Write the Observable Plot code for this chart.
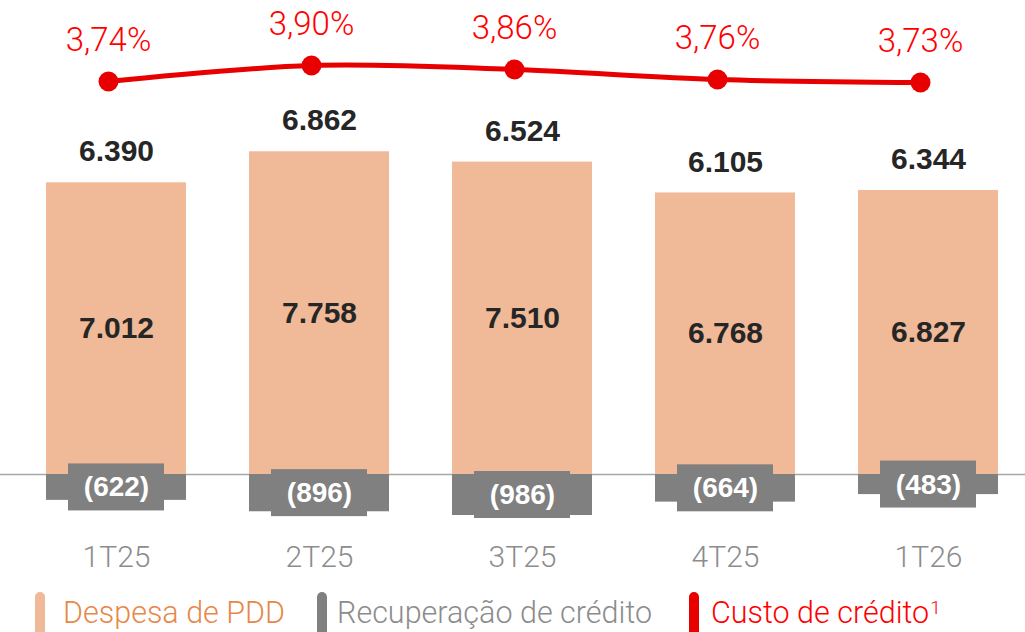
<!DOCTYPE html>
<html>
<head>
<meta charset="utf-8">
<script src="https://cdn.jsdelivr.net/npm/d3@7"></script>
<script src="https://cdn.jsdelivr.net/npm/@observablehq/plot@0.6"></script>
<style>
  html, body { margin: 0; padding: 0; background: #fff; }
  #wrap { position: relative; width: 1025px; height: 632px; overflow: hidden; font-family: Roboto, "Open Sans", sans-serif; }
  #wrap svg { position: absolute; left: 0; top: 0; overflow: visible; }
  .leg { position: absolute; top: 592px; height: 40px; display: flex; align-items: center; font-family: Roboto, sans-serif; font-weight: 300; font-size: 30.5px; white-space: nowrap; }
  .sw { position: absolute; top: 592px; width: 10px; height: 46px; border-radius: 5px; }
  sup { font-size: 19px; position: relative; top: -5px; margin-left: 1px; }
</style>
</head>
<body>
<div id="wrap"></div>
<script>
const categories = ["1T25", "2T25", "3T25", "4T25", "1T26"];
const despesaPDD = [7012, 7758, 7510, 6768, 6827];
const despesaLabels = ["7.012", "7.758", "7.510", "6.768", "6.827"];
const recuperacao = [622, 896, 986, 664, 483];
const recuperacaoLabels = ["(622)", "(896)", "(986)", "(664)", "(483)"];
const liquidoLabels = ["6.390", "6.862", "6.524", "6.105", "6.344"];
const custoCredito = [3.74, 3.90, 3.86, 3.76, 3.73];
const custoLabels = ["3,74%", "3,90%", "3,86%", "3,76%", "3,73%"];

const bars = categories.map((c, i) => ({
  cat: c, despesa: despesaPDD[i], despesaLabel: despesaLabels[i],
  rec: -recuperacao[i], recLabel: recuperacaoLabels[i], liq: liquidoLabels[i]
}));
const line = categories.map((c, i) => ({ cat: c, v: custoCredito[i], label: custoLabels[i] }));

const W = 1025, H = 580;
const peach = "#F0B997", gray = "#808080", red = "#E80000";

const plotBars = Plot.plot({
  width: W, height: H,
  marginLeft: 0, marginRight: 0, marginTop: 0, marginBottom: 23,
  x: { type: "band", domain: categories, range: [14.5, 1029.5], paddingInner: 0.31, paddingOuter: 0.155, axis: null },
  y: { domain: [0, 10000], range: [474, 58], axis: null },
  marks: [
    Plot.ruleY([0], { stroke: "#A6A6A6", strokeWidth: 1.5 }),
    Plot.barY(bars, { x: "cat", y: "despesa", fill: peach }),
    Plot.barY(bars, { x: "cat", y: "rec", fill: gray }),
    Plot.barY(bars, { x: "cat", y1: d => d.rec / 2, y2: d => d.rec / 2, fill: gray, insetLeft: 22, insetRight: 22, insetTop: -23.5, insetBottom: -23.5 }),
    Plot.text(bars, { x: "cat", y: "despesa", text: "liq", dy: -31, fontSize: 30, fontWeight: "bold", fill: "#262626", fontFamily: "Liberation Sans, Arial, sans-serif" }),
    Plot.text(bars, { x: "cat", y: d => d.despesa / 2, text: "despesaLabel", fontSize: 30, fontWeight: "bold", fill: "#262626", fontFamily: "Liberation Sans, Arial, sans-serif" }),
    Plot.text(bars, { x: "cat", y: d => d.rec / 2, text: "recLabel", fontSize: 28, fontWeight: "bold", fill: "#ffffff", fontFamily: "Liberation Sans, Arial, sans-serif" }),
    Plot.text(categories, { x: d => d, text: d => d, frameAnchor: "bottom", lineAnchor: "middle", fontSize: 30, fontWeight: 300, fill: "#8C8C8C", fontFamily: "Roboto, sans-serif" })
  ]
});

const plotLine = Plot.plot({
  width: W, height: H,
  marginLeft: 0, marginRight: 0, marginTop: 0, marginBottom: 23,
  x: { type: "band", domain: categories, range: [7, 1022], paddingInner: 0.31, paddingOuter: 0.155, axis: null },
  y: { domain: [3.6, 4.0], range: [95, 55], axis: null },
  marks: [
    Plot.line(line, { x: "cat", y: "v", curve: "catmull-rom", stroke: red, strokeWidth: 5 }),
    Plot.dot(line, { x: "cat", y: "v", r: 10, fill: red, stroke: "none" }),
    Plot.text(line, { x: "cat", y: "v", text: "label", dy: -41, fontSize: 33, fontWeight: 300, fill: "#FF0000", fontFamily: "Roboto, sans-serif" })
  ]
});

const wrap = document.getElementById("wrap");
wrap.appendChild(plotBars);
wrap.appendChild(plotLine);

const legend = [
  { label: "Despesa de PDD", sw: peach, color: "#E8874A", swx: 35, tx: 63 },
  { label: "Recuperação de crédito", sw: gray, color: "#8C8C8C", swx: 317, tx: 337 },
  { label: "Custo de crédito", sup: "1", sw: red, color: "#FF0000", swx: 689, tx: 711 }
];
legend.forEach(l => {
  const s = document.createElement("div");
  s.className = "sw"; s.style.left = l.swx + "px"; s.style.background = l.sw;
  wrap.appendChild(s);
  const t = document.createElement("div");
  t.className = "leg"; t.style.left = l.tx + "px"; t.style.color = l.color;
  t.textContent = l.label;
  if (l.sup) { const sp = document.createElement("sup"); sp.textContent = l.sup; t.appendChild(sp); }
  wrap.appendChild(t);
});
</script>
</body>
</html>
